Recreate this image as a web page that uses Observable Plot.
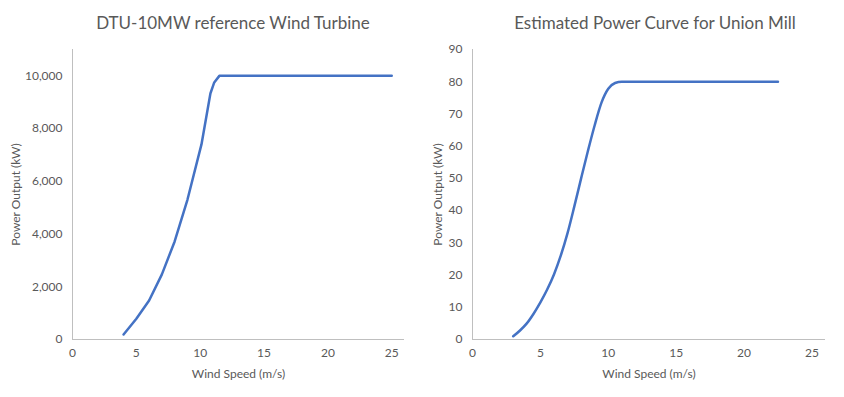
<!DOCTYPE html>
<html>
<head>
<meta charset="utf-8">
<script src="https://cdn.jsdelivr.net/npm/d3@7"></script>
<script src="https://cdn.jsdelivr.net/npm/@observablehq/plot@0.6"></script>
<style>
  html, body { margin: 0; padding: 0; background: #fff; }
  #wrap { position: relative; width: 844px; height: 397px; overflow: hidden; font-family: Lato, "Open Sans", sans-serif; }
  .panel { position: absolute; top: 0; width: 422px; height: 397px; }
  .title { position: absolute; top: 12px; font-size: 17px; color: #595959; white-space: nowrap; transform: translateX(-50%); }
  .panel svg { position: absolute; left: 0; top: 0; }
</style>
</head>
<body>
<div id="wrap">
  <div class="panel" id="left"><div class="title" style="left:233px">DTU-10MW reference Wind Turbine</div></div>
  <div class="panel" id="right" style="left:422px"><div class="title" style="left:233px">Estimated Power Curve for Union Mill</div></div>
</div>
<script>
// DTU-10MW reference wind turbine (kW)
const dtuWind  = [4, 5, 6, 7, 8, 9, 10.1, 10.8, 11.1, 11.5, 25];
const dtuPower = [190, 790, 1480, 2470, 3720, 5300, 7400, 9330, 9750, 10000, 10000];
// Union Mill estimated curve (kW)
const umWind  = [3, 3.5, 4, 4.5, 5, 5.5, 6, 6.5, 7, 7.5, 8, 8.5, 9, 9.5, 10, 10.5, 11, 22.5];
const umPower = [1, 2.8, 5, 8, 11.5, 15.5, 20.2, 26, 33, 41.3, 50, 58.5, 66.5, 73.5, 77.8, 79.6, 80, 80];
const xTicks = [0, 5, 10, 15, 20, 25];
const dtuTicks = [0, 2000, 4000, 6000, 8000, 10000];
const umTicks = [0, 10, 20, 30, 40, 50, 60, 70, 80, 90];

const TXT = "#595959", AX = "#bfbfbf", LINE = "#4472C4";

function chart({wind, power, yDomain, yTicks, yFmt, marginLeft, marginRight, curve}) {
  const data = wind.map((w, i) => ({w, p: power[i]}));
  return Plot.plot({
    width: 422, height: 397,
    marginTop: 49, marginBottom: 58, marginLeft, marginRight,
    style: {fontFamily: "Lato, 'Open Sans', sans-serif", fontSize: "12px", color: TXT, background: "transparent"},
    x: {domain: [0, 26], ticks: xTicks, tickSize: 0, tickPadding: 9, label: "Wind Speed (m/s)", labelArrow: "none", labelAnchor: "center", labelOffset: 38},
    y: {domain: yDomain, ticks: yTicks, tickSize: 0, tickPadding: 10, tickFormat: yFmt, label: "Power Output (kW)", labelArrow: "none", labelAnchor: "center", labelOffset: marginLeft - 11},
    marks: [
      Plot.ruleX([0], {stroke: AX, strokeWidth: 1}),
      Plot.ruleY([0], {stroke: AX, strokeWidth: 1}),
      Plot.line(data, {x: "w", y: "p", stroke: LINE, strokeWidth: 2.5, curve})
    ]
  });
}

document.getElementById("left").appendChild(chart({
  wind: dtuWind, power: dtuPower, yDomain: [0, 11000], yTicks: dtuTicks,
  yFmt: d3.format(","), marginLeft: 72, marginRight: 18, curve: "linear"
}));
document.getElementById("right").appendChild(chart({
  wind: umWind, power: umPower, yDomain: [0, 90], yTicks: umTicks,
  yFmt: d3.format("d"), marginLeft: 50, marginRight: 19, curve: "monotone-x"
}));
</script>
</body>
</html>
